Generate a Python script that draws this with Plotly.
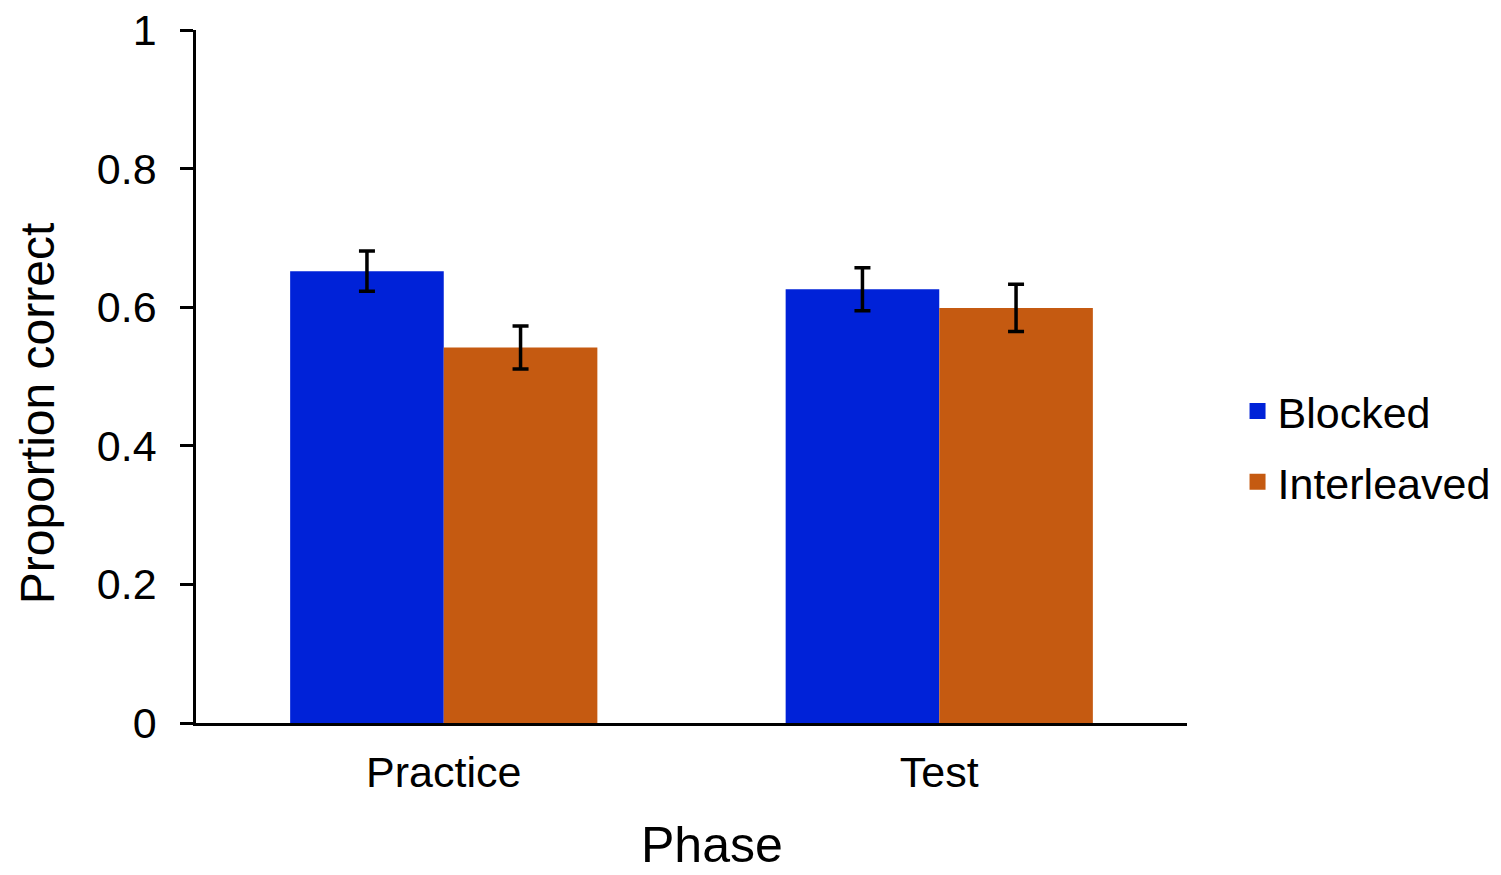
import plotly.graph_objects as go

phases = ["Practice", "Test"]
series_names = ["Blocked", "Interleaved"]
blocked = [0.652, 0.626]
blocked_err = [0.029, 0.031]
interleaved = [0.542, 0.599]
interleaved_err = [0.031, 0.034]
y_ticks = [0, 0.2, 0.4, 0.6, 0.8, 1]
y_tick_text = ["0", "0.2", "0.4", "0.6", "0.8", "1"]

colors = ["#0022D8", "#C55A11"]
FONT = "Liberation Sans, Arial, Helvetica, sans-serif"

fig = go.Figure()
for name, vals, errs, col in [(series_names[0], blocked, blocked_err, colors[0]),
                              (series_names[1], interleaved, interleaved_err, colors[1])]:
    fig.add_trace(go.Bar(
        x=phases, y=vals, name=name, marker_color=col, marker_line_width=0,
        error_y=dict(type="data", array=errs, visible=True, color="black",
                     thickness=3.5, width=8),
        showlegend=False,
    ))

# legend entries
for i, (name, col) in enumerate(zip(series_names, colors)):
    fig.add_trace(go.Scatter(
        x=[None], y=[None], mode="markers", name=name,
        marker=dict(symbol="square", size=22, color=col),
        legend="legend" if i == 0 else "legend2",
    ))

fig.update_layout(
    width=1501, height=875,
    margin=dict(l=196, r=314, t=30, b=152, autoexpand=False),
    paper_bgcolor="white", plot_bgcolor="white",
    barmode="group", bargap=0.38, bargroupgap=0,
    font=dict(family=FONT, color="black", size=43),
    legend=dict(x=1.051, y=0.4503, xanchor="left", yanchor="middle",
                font=dict(size=43), itemwidth=30, bgcolor="rgba(0,0,0,0)"),
    legend2=dict(x=1.051, y=0.348, xanchor="left", yanchor="middle",
                 font=dict(size=43), itemwidth=30, bgcolor="rgba(0,0,0,0)"),
    xaxis=dict(showline=True, linecolor="black", linewidth=2.5, ticks="",
               showgrid=False, zeroline=False, tickfont=dict(size=43),
               ticklabelstandoff=10),
    yaxis=dict(range=[0, 1], tickvals=y_ticks, ticktext=y_tick_text,
               showline=True, linecolor="black", linewidth=2.5,
               ticks="outside", ticklen=13, tickwidth=2.5, tickcolor="black",
               showgrid=False, zeroline=False, tickfont=dict(size=43),
               ticklabelstandoff=15),
    annotations=[
        dict(text="Proportion correct", textangle=-90, xref="paper", yref="paper",
             x=(37 - 196) / 991, y=0.447, xanchor="center", yanchor="middle",
             showarrow=False, font=dict(size=48)),
        dict(text="Phase", xref="paper", yref="paper",
             x=(712 - 196) / 991, y=(723 - 845) / 693, xanchor="center", yanchor="middle",
             showarrow=False, font=dict(size=50)),
    ],
)

fig.write_html("out.html", config={"displayModeBar": False},
               post_script="document.body.style.margin='0';document.body.style.overflow='hidden';")
